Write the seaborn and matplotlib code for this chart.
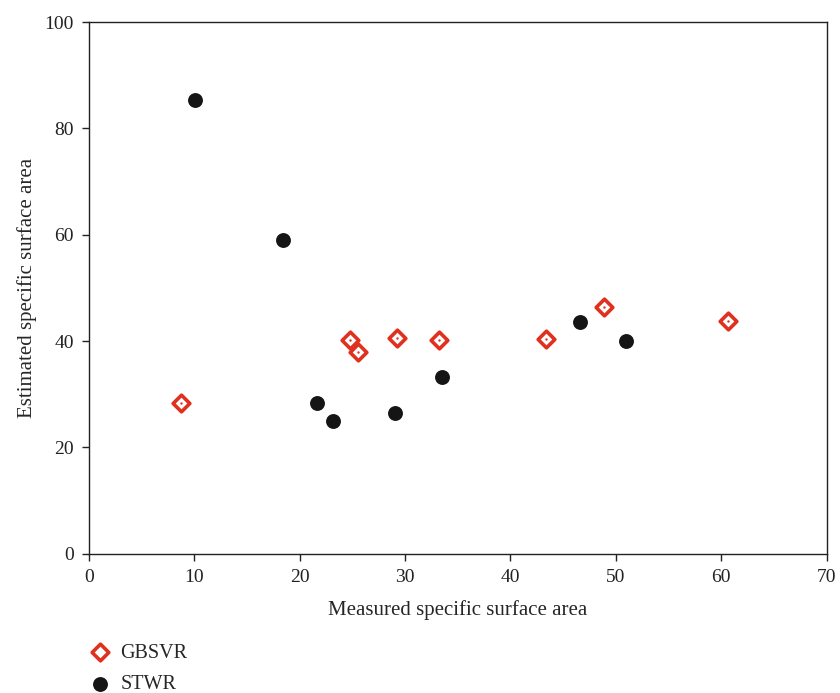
import matplotlib
matplotlib.use("Agg")
import matplotlib.pyplot as plt
import seaborn as sns
import pandas as pd

gbsvr_x = [8.7, 24.8, 25.5, 29.2, 33.2, 43.4, 48.9, 60.6]
gbsvr_y = [28.4, 40.3, 38.0, 40.5, 40.3, 40.4, 46.5, 43.7]
stwr_x = [10.05, 18.4, 21.6, 23.2, 29.0, 33.5, 46.6, 51.0]
stwr_y = [85.3, 59.1, 28.3, 24.9, 26.4, 33.3, 43.6, 40.1]
x_ticks = [0, 10, 20, 30, 40, 50, 60, 70]
y_ticks = [0, 20, 40, 60, 80, 100]

sns.set_style("ticks")
plt.rcParams['font.family'] = ['Liberation Serif', 'DejaVu Serif']

df = pd.concat([
    pd.DataFrame({"x": gbsvr_x, "y": gbsvr_y, "model": "GBSVR"}),
    pd.DataFrame({"x": stwr_x, "y": stwr_y, "model": "STWR"}),
])

fig = plt.figure(figsize=(8.4, 6.93), dpi=100)
ax = fig.add_axes([0.106, 0.201, 0.878, 0.767])

red = "#e0301e"
g = df[df.model == "GBSVR"]
s = df[df.model == "STWR"]
sns.scatterplot(data=g, x="x", y="y", ax=ax, marker="D", s=72, color="white",
                edgecolor=red, linewidth=2.6, label="GBSVR", zorder=3)
sns.scatterplot(data=g, x="x", y="y", ax=ax, marker="o", s=3, color=red,
                edgecolor=red, linewidth=0, legend=False, zorder=4)
sns.scatterplot(data=s, x="x", y="y", ax=ax, marker="o", s=115, color="#151515",
                edgecolor="#151515", linewidth=0, label="STWR", zorder=3)

ax.set_xlim(0, 70)
ax.set_ylim(0, 100)
ax.set_xticks(x_ticks)
ax.set_yticks(y_ticks)
for sp in ax.spines.values():
    sp.set_linewidth(1.0)
    sp.set_color("#222222")
ax.tick_params(direction="out", length=5, width=1.0, labelsize=14, colors="#222222", pad=6)
ax.set_xlabel("Measured specific surface area", fontsize=15, labelpad=10)
ax.set_ylabel("Estimated specific surface area", fontsize=15, labelpad=5)

handles, labels = ax.get_legend_handles_labels()
ax.legend_.remove()
fig.legend(handles, labels, loc="upper left", bbox_to_anchor=(0.098, 0.083),
           frameon=False, fontsize=14.5, handletextpad=0.5, labelspacing=0.6,
           borderaxespad=0, handlelength=1.0)

fig.savefig("out.png", dpi=100)
